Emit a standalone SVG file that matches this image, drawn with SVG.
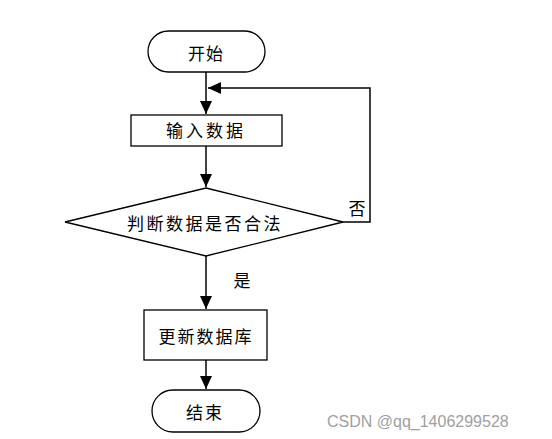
<svg xmlns="http://www.w3.org/2000/svg" width="552" height="439" viewBox="0 0 552 439">
<style>
.shape{fill:#fff;stroke:#000;stroke-width:1.3}
.lbl{font-family:"Noto Sans CJK SC","Liberation Sans",sans-serif;font-size:17px;fill:#000;text-anchor:middle;dominant-baseline:central}
.edge{fill:none;stroke:#000;stroke-width:1.5}
.wm{font-family:"Liberation Sans",sans-serif;font-size:16px;fill:#a0a0a0}
</style>
<defs>
<marker id="arr" markerUnits="userSpaceOnUse" markerWidth="14" markerHeight="12" refX="13" refY="6" orient="auto">
<path d="M0,0 L13,6 L0,12 Z" fill="#000"/>
</marker>
</defs>
<rect width="552" height="439" fill="#fff"/>
<g id="edges">
<line class="edge" x1="206" y1="71" x2="206" y2="114" marker-end="url(#arr)"/>
<line class="edge" x1="206" y1="146" x2="206" y2="187" marker-end="url(#arr)"/>
<polyline class="edge" points="343,222 370,222 370,88 208,88" marker-end="url(#arr)"/>
<line class="edge" x1="206" y1="256" x2="206" y2="309" marker-end="url(#arr)"/>
<line class="edge" x1="206" y1="360" x2="206" y2="389" marker-end="url(#arr)"/>
<text class="lbl" x="357" y="207">否</text>
<text class="lbl" x="242" y="279">是</text>
</g>
<g id="start">
<rect class="shape" x="148" y="31" width="117" height="41" rx="20.5"/>
<text class="lbl" x="206" y="52" letter-spacing="1">开始</text>
</g>
<g id="input">
<rect class="shape" x="131" y="115" width="151" height="31"/>
<text class="lbl" x="206" y="129" letter-spacing="3">输入数据</text>
</g>
<g id="decision">
<polygon class="shape" points="206,188 343,222 206,256 65,222"/>
<text class="lbl" x="205" y="222" letter-spacing="2.5">判断数据是否合法</text>
</g>
<g id="update">
<rect class="shape" x="144" y="310" width="123" height="50"/>
<text class="lbl" x="206" y="335" letter-spacing="2">更新数据库</text>
</g>
<g id="end">
<rect class="shape" x="152" y="390" width="108" height="42" rx="21"/>
<text class="lbl" x="205" y="411" letter-spacing="2">结束</text>
</g>
<text class="wm" x="327" y="427">CSDN @qq_1406299528</text>
</svg>
